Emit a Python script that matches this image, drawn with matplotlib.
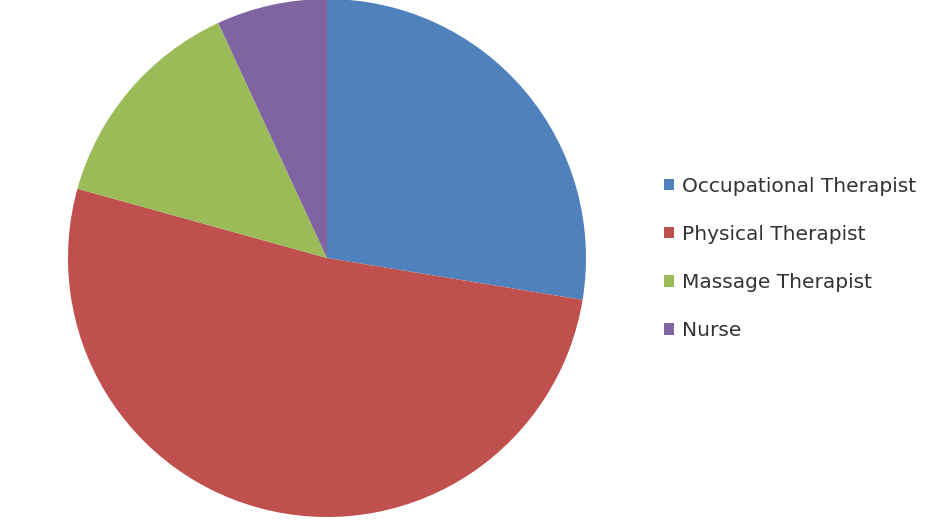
import matplotlib.pyplot as plt

labels = ["Occupational Therapist", "Physical Therapist", "Massage Therapist", "Nurse"]
values = [8, 15, 4, 2]
colors = ["#4F81BD", "#C0504D", "#9BBB59", "#8064A2"]

fig = plt.figure(figsize=(9.33, 5.27), dpi=100)
# pie centre approx (327, 258) px, radius ~259 px
ax = fig.add_axes([(327 - 259) / 933, (527 - 258 - 259) / 527, 518 / 933, 518 / 527])
wedges, _ = ax.pie(
    values,
    colors=colors,
    startangle=90,
    counterclock=False,
    radius=1,
    wedgeprops=dict(linewidth=0),
)
ax.set_xlim(-1, 1)
ax.set_ylim(-1, 1)
ax.set_aspect("equal")
ax.axis("off")

leg = fig.legend(
    wedges,
    labels,
    loc="center left",
    bbox_to_anchor=(664 / 933, 1 - 258.5 / 527),
    frameon=False,
    fontsize=14.5,
    handlelength=0.5,
    handleheight=0.5,
    handletextpad=0.4,
    labelspacing=1.45,
    borderpad=0,
    borderaxespad=0,
)
for t in leg.get_texts():
    t.set_color("#333333")

fig.savefig("out.png", dpi=100)
